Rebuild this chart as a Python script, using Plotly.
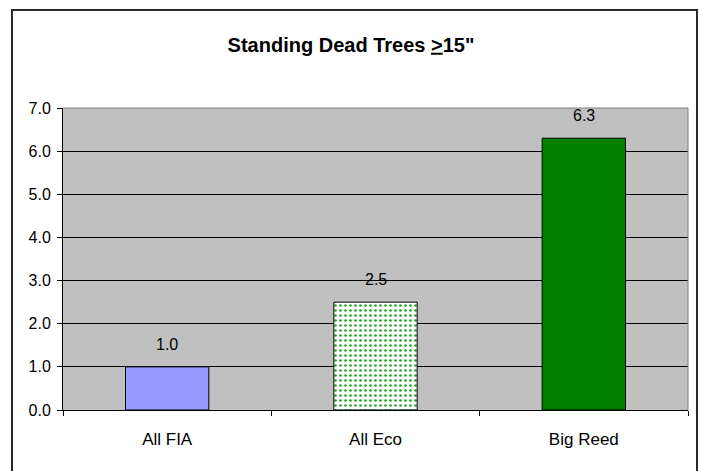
import plotly.graph_objects as go

categories = ["All FIA", "All Eco", "Big Reed"]
values = [1.0, 2.5, 6.3]
y_ticks = [0, 1, 2, 3, 4, 5, 6, 7]
y_tick_labels = ["0.0", "1.0", "2.0", "3.0", "4.0", "5.0", "6.0", "7.0"]

fill_colors = ["#9999FF", "#FFFFFF", "#008000"]
pattern_shapes = ["", ".", ""]
pattern_colors = ["#9999FF", "#22A622", "#008000"]

FONT = "Liberation Sans, Arial, sans-serif"

fig = go.Figure()
# one trace per bar so each can carry its own fill pattern
for c, v, col, shp, pcol in zip(categories, values, fill_colors, pattern_shapes, pattern_colors):
    marker = dict(color=col, line=dict(color="#000000", width=1))
    if shp:
        marker["pattern"] = dict(shape=shp, fgcolor=pcol, bgcolor=col,
                                 size=5, solidity=0.22, fillmode="replace")
    fig.add_trace(go.Bar(x=[c], y=[v], marker=marker, width=0.4, hoverinfo="skip"))

# value labels above each bar
for c, v in zip(categories, values):
    fig.add_annotation(x=c, y=v, text=f"{v:.1f}", showarrow=False,
                       yanchor="bottom", yshift=12,
                       font=dict(family=FONT, size=16, color="#000000"))

# top and right edges of the plot area
fig.add_shape(type="line", xref="paper", yref="paper", x0=0, x1=1, y0=1, y1=1,
              line=dict(color="#808080", width=1), layer="above")
fig.add_shape(type="line", xref="paper", yref="paper", x0=1, x1=1, y0=0, y1=1,
              line=dict(color="#808080", width=1), layer="above")

# outer chart frame
fig.add_shape(type="rect", xref="paper", yref="paper",
              x0=-0.0816, x1=1.0144, y0=-0.3, y1=1.3245,
              line=dict(color="#2A2A2A", width=2), layer="above")

fig.update_layout(
    width=702, height=471,
    margin=dict(l=63, r=14, t=108, b=61),
    paper_bgcolor="#FFFFFF",
    plot_bgcolor="#C0C0C0",
    showlegend=False,
    barmode="overlay",
    title=dict(text="Standing Dead Trees <u>&gt;</u>15\"", x=0.5, xanchor="center",
               y=0.905, yanchor="middle",
               font=dict(family=FONT, size=20, color="#000000", weight="bold")),
)
fig.update_xaxes(
    categoryorder="array", categoryarray=categories,
    showline=True, linecolor="#000000", linewidth=1,
    ticks="outside", ticklen=5, tickcolor="#000000", tickson="boundaries",
    ticklabelstandoff=14,
    tickfont=dict(family=FONT, size=17, color="#000000"),
    showgrid=False,
)
fig.update_yaxes(
    range=[0, 7], tickvals=y_ticks, ticktext=y_tick_labels,
    showline=True, linecolor="#000000", linewidth=1,
    ticks="outside", ticklen=5, tickcolor="#000000",
    ticklabelstandoff=3,
    tickfont=dict(family=FONT, size=16, color="#000000"),
    showgrid=True, gridcolor="#000000", gridwidth=1,
    zeroline=False,
)

fig.write_html("out.html")
